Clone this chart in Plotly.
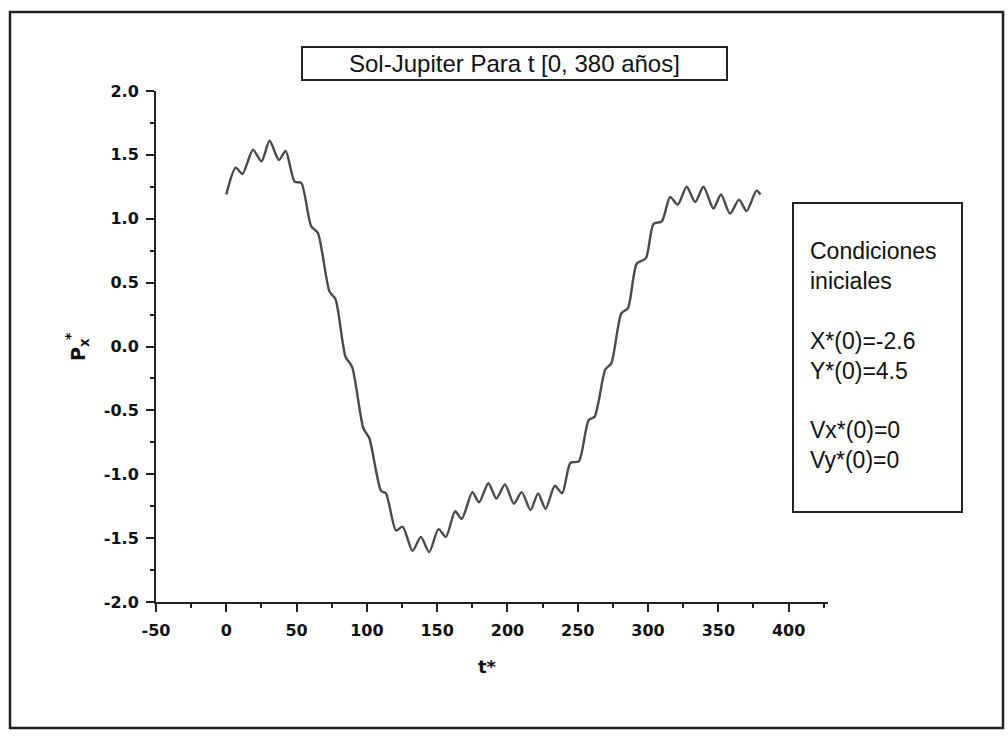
import plotly.graph_objects as go

# Data
t_vals = [0, 6.7, 11.5, 19.0, 25.0, 30.8, 37.4, 42.2, 48.6, 53.3, 60.4, 65.1, 73.4, 77.7,
          84.8, 89.5, 97.5, 101.8, 110.1, 113.6, 120.7, 125.4, 132.5, 138.4, 144.3, 150.9,
          156.2, 162.8, 167.5, 175.0, 179.8, 186.4, 192.1, 198.2, 204.6, 210.1, 216.4,
          221.8, 227.1, 233.7, 238.9, 244.8, 250.7, 257.8, 262.0, 269.6, 273.9, 281.0,
          285.7, 292.0, 298.4, 303.9, 309.8, 315.7, 321.1, 327.5, 333.5, 339.4, 346.5,
          351.9, 358.3, 364.7, 370.1, 377.1, 380]
px_vals = [1.19, 1.40, 1.35, 1.54, 1.45, 1.61, 1.46, 1.53, 1.29, 1.28, 0.94, 0.89, 0.43, 0.37,
           -0.08, -0.16, -0.64, -0.72, -1.13, -1.15, -1.44, -1.41, -1.60, -1.49, -1.61, -1.43,
           -1.49, -1.29, -1.35, -1.14, -1.22, -1.07, -1.19, -1.08, -1.23, -1.14, -1.28,
           -1.15, -1.27, -1.09, -1.15, -0.91, -0.90, -0.575, -0.55, -0.18, -0.13, 0.26,
           0.30, 0.65, 0.69, 0.96, 0.98, 1.17, 1.11, 1.25, 1.13, 1.25, 1.08,
           1.19, 1.04, 1.15, 1.06, 1.22, 1.19]

x_ticks = [-50, 0, 50, 100, 150, 200, 250, 300, 350, 400]
y_ticks = [-2.0, -1.5, -1.0, -0.5, 0.0, 0.5, 1.0, 1.5, 2.0]

title_text = "Sol-Jupiter Para t [0, 380 años]"
cond_lines = ["Condiciones", "iniciales", " ", "X*(0)=-2.6", "Y*(0)=4.5", " ", "Vx*(0)=0", "Vy*(0)=0"]

W, H = 1008, 738
L, R, T, B = 156, 828, 91, 602  # plot area in pixels


def fx(px):
    return (px - L) / (R - L)


def fy(py):
    return (B - py) / (B - T)


fig = go.Figure()
fig.add_trace(go.Scatter(
    x=t_vals, y=px_vals, mode="lines",
    line=dict(color="#4a4a4a", width=2.4, shape="spline", smoothing=0.7),
    showlegend=False, hoverinfo="skip"))

tickfont = dict(family="DejaVu Sans", size=16, color="#111", weight="bold")
axis_common = dict(showline=True, linewidth=2, linecolor="#222", ticks="outside",
                   ticklen=8, tickwidth=2, tickcolor="#222", showgrid=False,
                   zeroline=False, tickfont=tickfont, mirror=False)

fig.update_xaxes(range=[-50, 428], tickvals=x_ticks,
                 ticktext=[str(v) for v in x_ticks],
                 minor=dict(dtick=25, tick0=-50, ticks="outside", ticklen=4, tickwidth=2,
                            tickcolor="#222", showgrid=False),
                 ticklabelstandoff=5,
                 **axis_common)
fig.update_yaxes(range=[-2, 2], tickvals=y_ticks,
                 ticktext=[f"{v:.1f}" for v in y_ticks],
                 minor=dict(dtick=0.25, tick0=-2, ticks="outside", ticklen=4, tickwidth=2,
                            tickcolor="#222", showgrid=False),
                 ticklabelstandoff=4,
                 **axis_common)

shapes = [
    # outer frame
    dict(type="rect", xref="paper", yref="paper",
         x0=fx(10), x1=fx(1003), y0=fy(728), y1=fy(12),
         line=dict(color="#222", width=2.5), fillcolor="rgba(0,0,0,0)", layer="below"),
    # title box
    dict(type="rect", xref="paper", yref="paper",
         x0=fx(302), x1=fx(727), y0=fy(80), y1=fy(47),
         line=dict(color="#222", width=2), fillcolor="white"),
    # conditions box
    dict(type="rect", xref="paper", yref="paper",
         x0=fx(793), x1=fx(962), y0=fy(512), y1=fy(203),
         line=dict(color="#222", width=2), fillcolor="white"),
]

annotations = [
    dict(text=title_text, xref="paper", yref="paper", x=fx(514.5), y=fy(63.5),
         xanchor="center", yanchor="middle", showarrow=False,
         font=dict(family="Liberation Sans, Arial", size=24, color="#111")),
    dict(text="<br>".join(cond_lines), xref="paper", yref="paper", x=fx(808), y=fy(236),
         xanchor="left", yanchor="top", align="left", showarrow=False,
         font=dict(family="Liberation Sans, Arial", size=23, color="#111")),
    dict(text="<b>t*</b>", xref="paper", yref="paper", x=fx(487), y=fy(666),
         xanchor="center", yanchor="middle", showarrow=False,
         font=dict(family="DejaVu Sans", size=18, color="#111")),
    dict(text="<b>P<sub>x</sub></b>", xref="paper", yref="paper", x=fx(79), y=fy(350),
         xanchor="center", yanchor="middle", showarrow=False, textangle=-90,
         font=dict(family="DejaVu Sans", size=19, color="#111")),
    dict(text="<b>*</b>", xref="paper", yref="paper", x=fx(70), y=fy(336),
         xanchor="center", yanchor="middle", showarrow=False, textangle=-90,
         font=dict(family="DejaVu Sans", size=14, color="#111")),
]

fig.update_layout(
    width=W, height=H,
    margin=dict(l=L, r=W - R, t=T, b=H - B, pad=0),
    paper_bgcolor="white", plot_bgcolor="white",
    shapes=shapes, annotations=annotations,
    font=dict(family="DejaVu Sans", color="#111"),
)

fig.write_html("out.html")
